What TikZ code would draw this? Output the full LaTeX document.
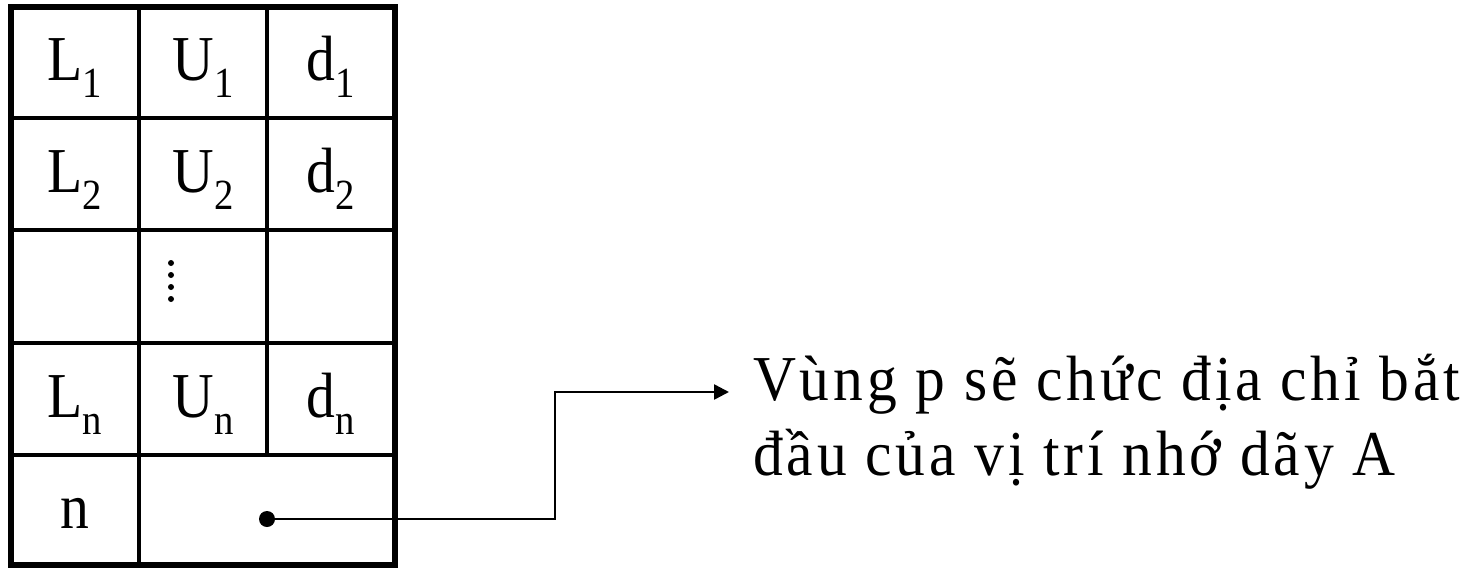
\documentclass[tikz,border=0pt]{standalone}
\usepackage{fontspec}
\setmainfont{Liberation Serif}[FakeStretch=0.9]
\newfontfamily\notefont{Liberation Serif}[FakeStretch=0.93,LetterSpace=6]
\usetikzlibrary{arrows.meta}
% lowered, smaller index after a letter
\newcommand\subidx[1]{\raisebox{-17pt}{\fontsize{43}{43}\selectfont #1}}
\begin{document}
\begin{tikzpicture}[x=1pt,y=-1pt,
  cellText/.style={anchor=base,inner sep=0pt,font=\fontsize{64}{75}\selectfont},
  noteText/.style={anchor=base west,inner sep=0pt,font=\notefont\fontsize{64}{75}\selectfont},
  outerFrame/.style={line width=6pt},
  gridRule/.style={line width=3.5pt},
  linkArrow/.style={line width=2.5pt,-{Triangle[length=15pt,width=15pt]}},
  ]
\useasboundingbox (0,0) rectangle (1480,568);

% table rules
\draw[gridRule] (11,118) -- (395,118);
\draw[gridRule] (11,230) -- (395,230);
\draw[gridRule] (11,343) -- (395,343);
\draw[gridRule] (11,455) -- (395,455);
\draw[gridRule] (139,6) -- (139,565);
\draw[gridRule] (267,6) -- (267,455);
\draw[outerFrame] (11,6.5) rectangle (395,565);

% table entries
\node[cellText] (l1) at (75,80) {L\subidx{1}};
\node[cellText] (u1) at (203,80) {U\subidx{1}};
\node[cellText] (d1) at (331,80) {d\subidx{1}};
\node[cellText] (l2) at (75,192) {L\subidx{2}};
\node[cellText] (u2) at (203,192) {U\subidx{2}};
\node[cellText] (d2) at (331,192) {d\subidx{2}};
\node[cellText] (ln) at (75,417) {L\subidx{n}};
\node[cellText] (un) at (203,417) {U\subidx{n}};
\node[cellText] (dn) at (331,417) {d\subidx{n}};
\node[cellText] (n) at (75,528) {n};

% vertical ellipsis
\foreach \yy in {263,275,287,299}
  \fill (171,\yy) circle (3);

% pointer cell and link to the note
\node[circle,fill,inner sep=0pt,minimum size=16pt] (dot) at (267,519) {};
\coordinate (turn) at (555,519);
\coordinate (tip) at (729,392);
\draw[linkArrow] (dot.center) -- (turn) |- (tip);

\node[noteText] (line1) at (753,400) {Vùng p sẽ chức địa chỉ bắt};
\node[noteText] (line2) at (753,475) {đầu của vị trí nhớ dãy A};
\end{tikzpicture}
\end{document}
